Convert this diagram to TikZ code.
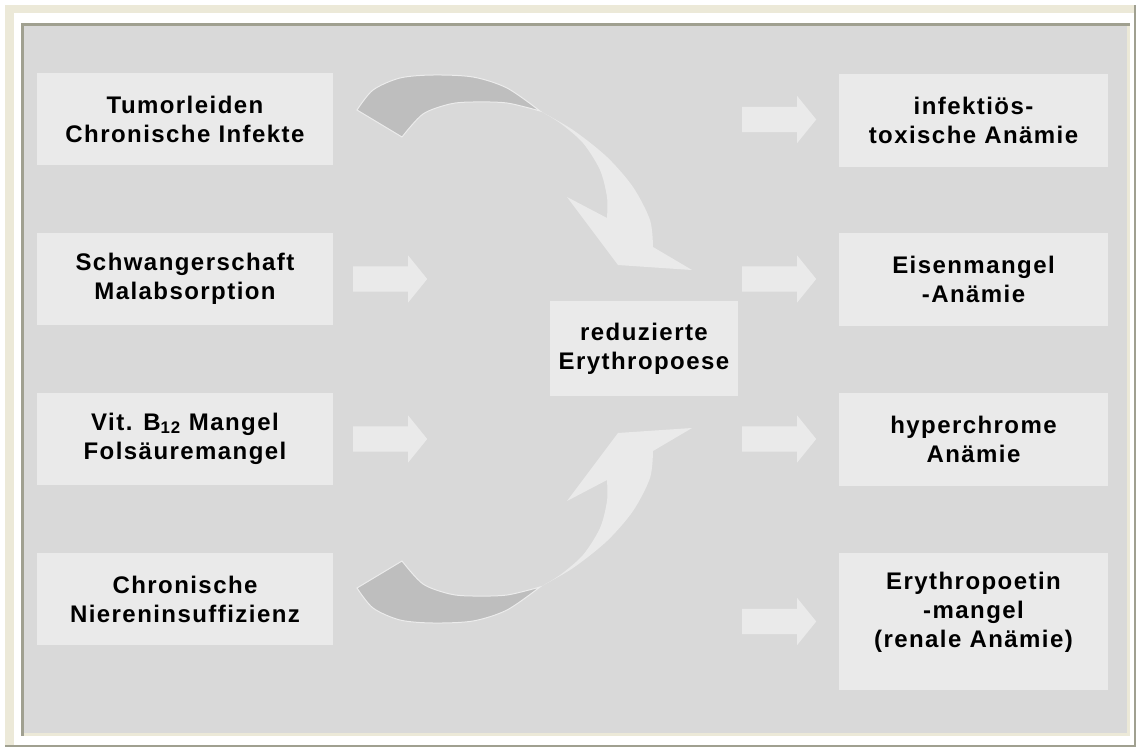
\documentclass[tikz,border=0pt]{standalone}
\usepackage{fontspec}
\setmainfont{Liberation Sans}[LetterSpace=6]
\usetikzlibrary{shapes.arrows}
\definecolor{cream}{RGB}{236,233,216}
\definecolor{frameline}{RGB}{160,160,144}
\definecolor{panelgray}{RGB}{217,217,217}
\definecolor{boxgray}{RGB}{234,234,234}
\definecolor{tailgray}{RGB}{190,190,190}

% curved ribbon arrow, drawn for the upper one and mirrored for the lower one
\newcommand\bendarrow{%
\fill [boxgray] plot[smooth] coordinates {(540,111) (573,130) (607,157) (633,187) (650,220) (653,247)}
  -- (692,270) -- (618,265) -- (567,197) -- (607,218)
  -- plot[smooth] coordinates {(607,218) (607,197) (600,170) (583,143) (560,123) (540,111)} -- cycle;
\filldraw [fill=tailgray, draw=white!85!gray, line width=1pt] plot[smooth] coordinates {(357,110) (373,90) (400,78) (433,75) (473,77) (507,88) (540,111)}
  -- plot[smooth] coordinates {(540,111) (507,103) (473,102) (450,104) (423,114) (402,137)} -- cycle;}

\begin{document}
\begin{tikzpicture}[x=1pt,y=-1pt,
  box/.style={fill=boxgray, inner sep=0pt, align=center, font=\fontsize{24pt}{29pt}\selectfont\bfseries},
  lbox/.style={box, minimum width=296pt, minimum height=92pt},
  rbox/.style={box, minimum width=269pt, minimum height=93pt},
  blockarrow/.style={single arrow, fill=boxgray, inner xsep=0pt, inner ysep=12.5pt,
    minimum height=74pt, single arrow head extend=11pt, single arrow tip angle=102, anchor=tail}]
\useasboundingbox (0,0) rectangle (1136,747);
% frame
\fill [white] (0,0) rectangle (1136,747);
\fill [cream] (5,5) rectangle (1135,746);
\fill [white] (14,13) rectangle (1134,745);
\draw [frameline, line width=1.5pt] (5,746) -- (1135,746) -- (1135,5);
\fill [frameline] (21,23) rectangle (1130,736);
\fill [cream] (24,26) rectangle (1130,736);
\fill [panelgray] (24,26) rectangle (1127,733);

% causes
\node [lbox] (tumor) at (185,119) {Tumorleiden\\Chronische Infekte};
\node [lbox] (schwanger) at (185,279) {Schwangerschaft\\Malabsorption};
\node [lbox] (vitamin) at (185,438.5) {Vit. B\textsubscript{12} Mangel\\Folsäuremangel};
\node [lbox] (niere) at (185,599) {Chronische\\Niereninsuffizienz};

% centre
\node [box, minimum width=188pt, minimum height=95pt] (ery) at (644,348.5) {reduzierte\\Erythropoese};

% anaemias
\node [rbox] (infekt) at (973.5,120) {infektiös-\\toxische Anämie};
\node [rbox] (eisen) at (973.5,279.5) {Eisenmangel\\-Anämie};
\node [rbox] (hyper) at (973.5,439) {hyperchrome\\Anämie};
\node [rbox, minimum height=137pt] (epo) at (973.5,621.5) {Erythropoetin\\-mangel\\(renale Anämie)\\[-6pt]\mbox{}};

% arrows
\bendarrow
\begin{scope}[yshift=-698pt, yscale=-1]
\bendarrow
\end{scope}
\node [blockarrow] (pfeilS) at (353,279) {};
\node [blockarrow] (pfeilV) at (353,439) {};
\node [blockarrow] (pfeilI) at (742,119.5) {};
\node [blockarrow] (pfeilE) at (742,279) {};
\node [blockarrow] (pfeilH) at (742,439) {};
\node [blockarrow] (pfeilR) at (742,621.5) {};
\end{tikzpicture}
\end{document}
